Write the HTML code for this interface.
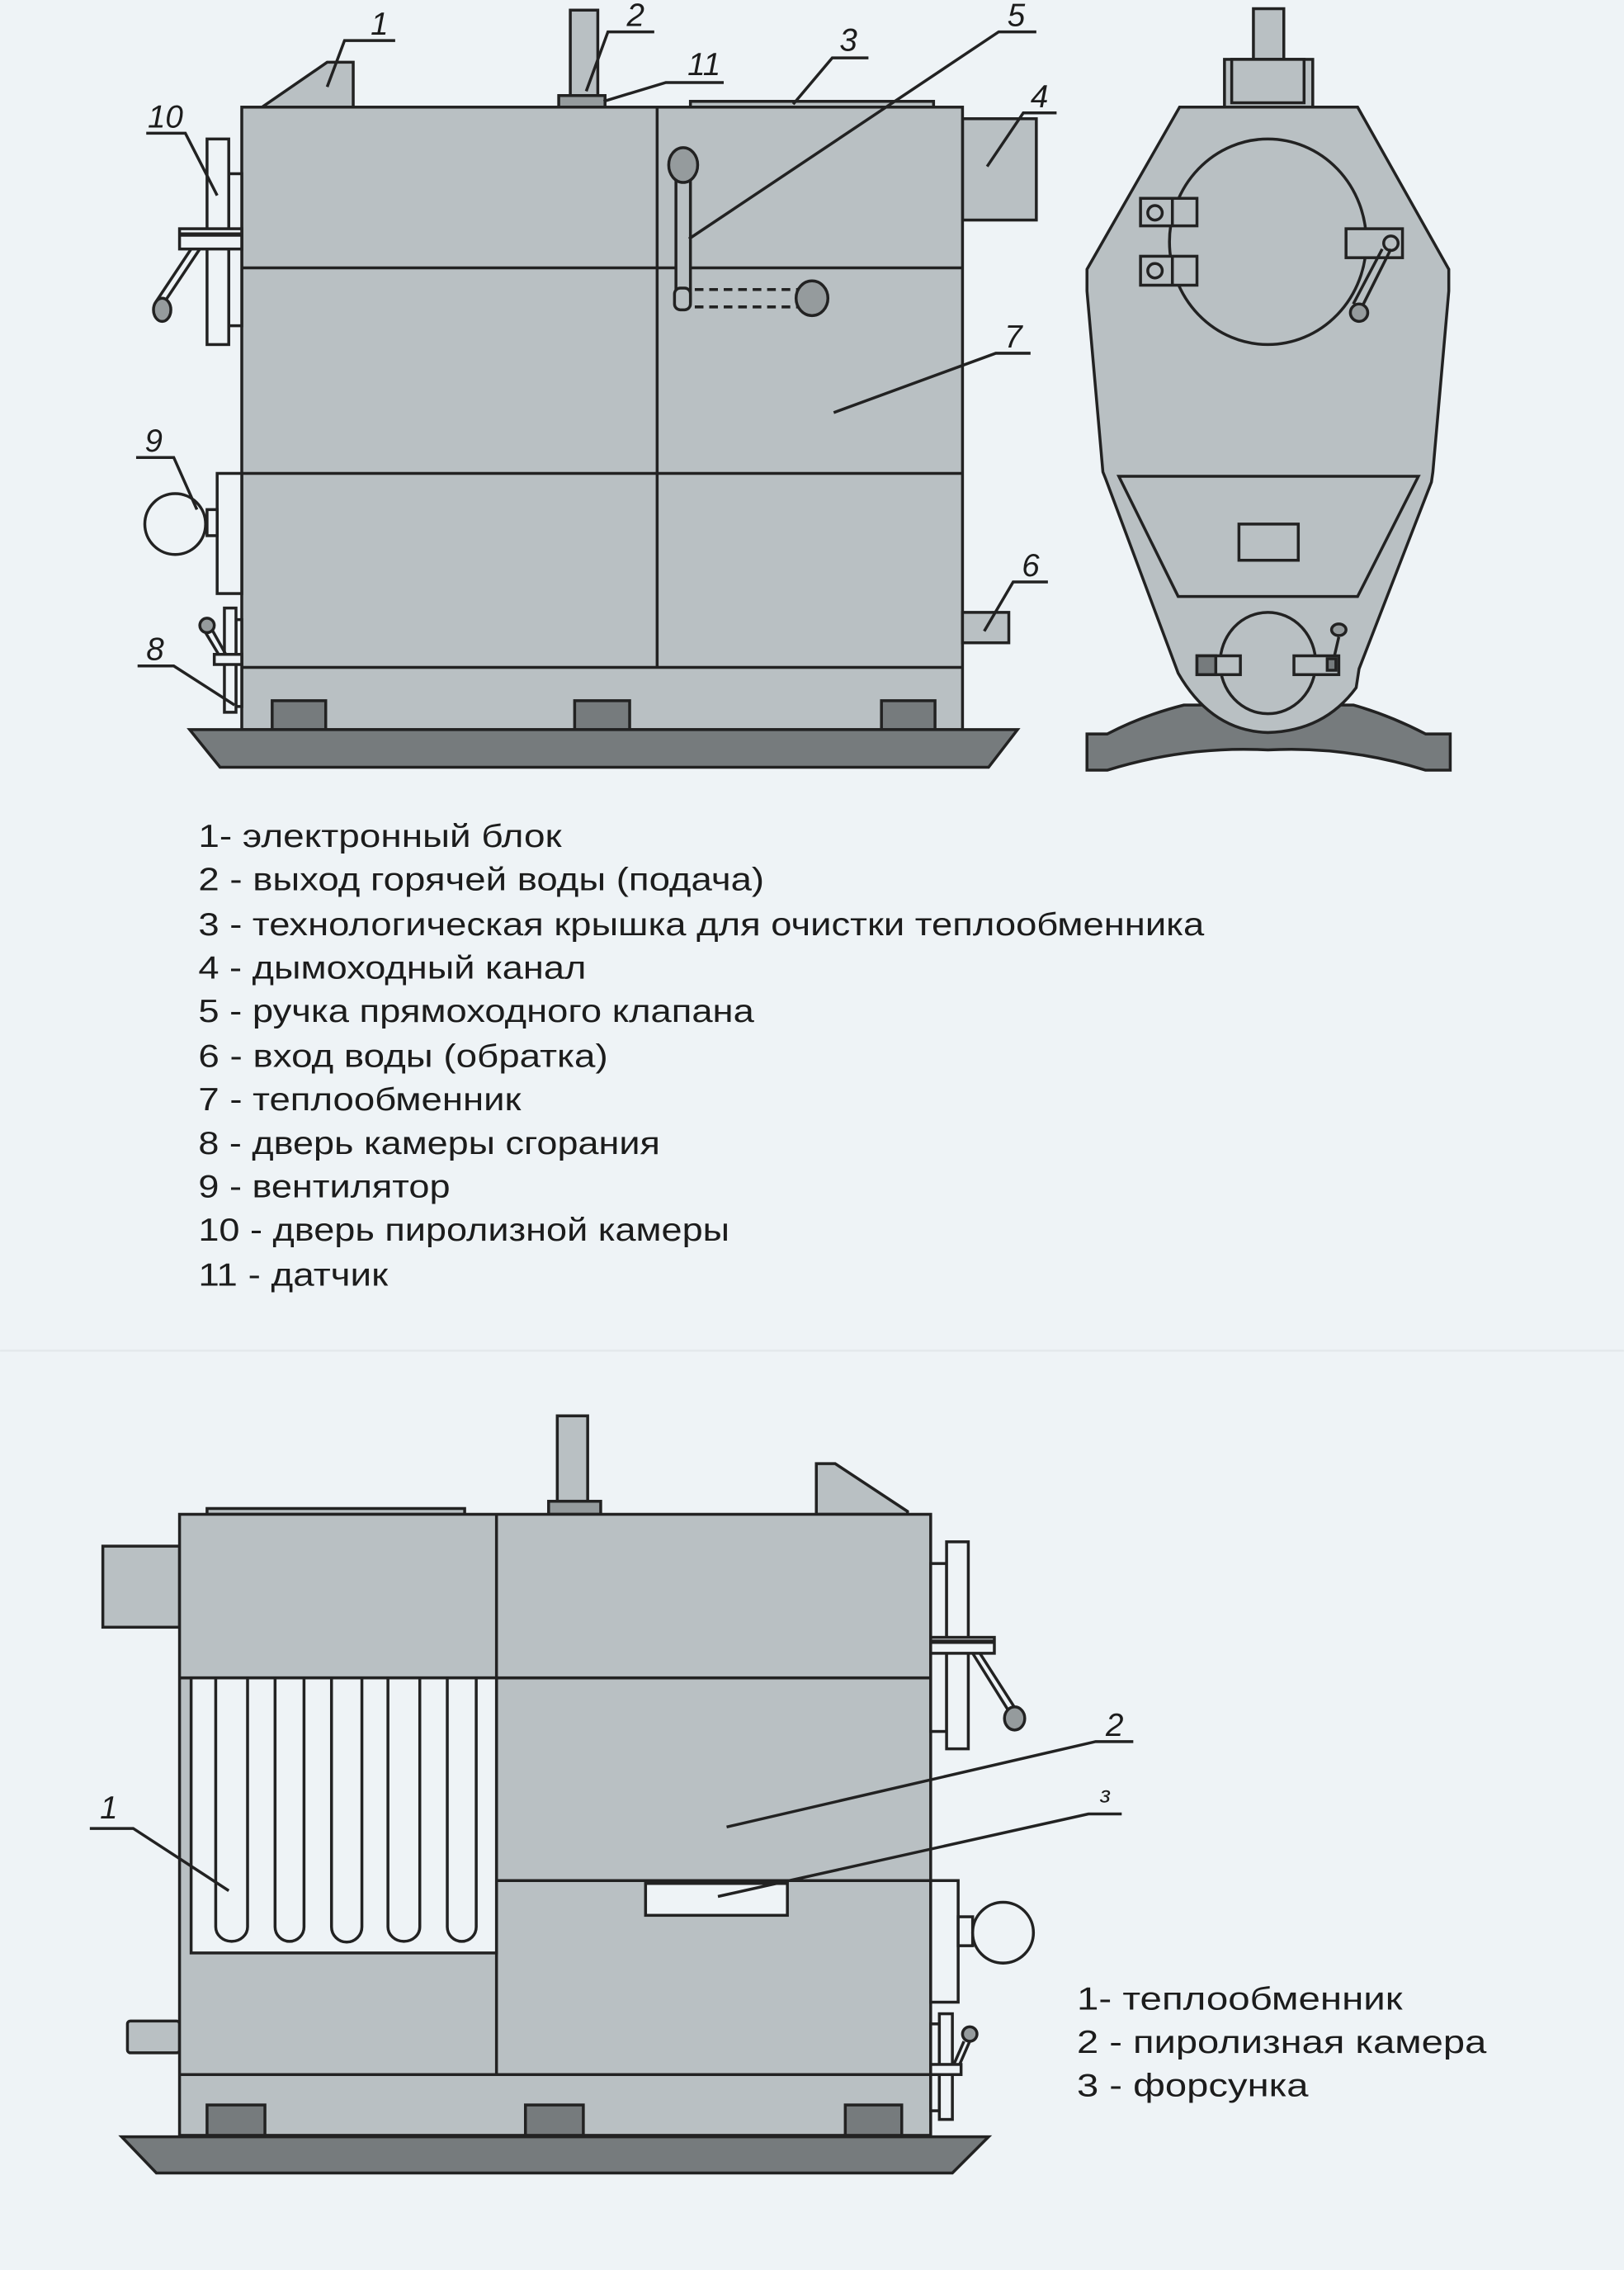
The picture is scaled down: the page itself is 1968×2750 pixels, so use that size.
<!DOCTYPE html>
<html><head><meta charset="utf-8"><style>
html,body{margin:0;padding:0;background:#eef3f6;}
svg{display:block;}
text{font-family:"Liberation Sans","DejaVu Sans",sans-serif;fill:#1c1c1c;}
.lbl{font-style:italic;font-size:22px;}
.leg{font-size:22px;}
</style></head><body>
<svg width="1968" height="2750" viewBox="0 0 1122 1568" xmlns="http://www.w3.org/2000/svg">
<rect x="0" y="0" width="1122" height="1568" fill="#eef3f6"/>
<line x1="0" y1="933" x2="1122" y2="933" stroke="#e4e9ec" stroke-width="1.5"/>
<g stroke="#222" stroke-width="2" fill="#b9c0c3">
<!-- TOP FRONT VIEW -->
<polygon points="181,74 226,43 244,43 244,74"/>
<rect x="394" y="7" width="19" height="59"/>
<rect x="386" y="66" width="32" height="8" fill="#959b9d"/>
<rect x="477" y="70" width="168" height="4"/>
<rect x="665" y="82" width="51" height="70"/>
<rect x="167" y="74" width="498" height="430"/>
<line x1="167" y1="185" x2="665" y2="185"/>
<line x1="167" y1="327" x2="665" y2="327"/>
<line x1="167" y1="461" x2="665" y2="461"/>
<line x1="454" y1="74" x2="454" y2="461"/>
<rect x="188" y="484" width="37" height="20" fill="#767b7d"/>
<rect x="397" y="484" width="38" height="20" fill="#767b7d"/>
<rect x="609" y="484" width="37" height="20" fill="#767b7d"/>
<polygon points="131,504 703,504 683,530 152,530" fill="#767b7d"/>
<!-- handle 5 -->
<rect x="467" y="118" width="10" height="90" fill="#b9c0c3"/>
<ellipse cx="472" cy="114" rx="10" ry="12" fill="#959b9d"/>
<rect x="466" y="199" width="11" height="15" rx="4"/>
<line x1="480" y1="200" x2="552" y2="200" stroke-dasharray="6,4"/>
<line x1="480" y1="212" x2="552" y2="212" stroke-dasharray="6,4"/>
<ellipse cx="561" cy="206" rx="11" ry="12" fill="#959b9d"/>
<!-- door 10 -->
<rect x="158" y="120" width="9" height="105" fill="#eef3f6"/>
<rect x="143" y="96" width="15" height="142" fill="#eef3f6"/>
<rect x="124" y="158" width="43" height="14" fill="#eef3f6"/>
<line x1="124" y1="162" x2="167" y2="162" stroke-width="3"/>
<line x1="138" y1="172" x2="114" y2="208"/>
<line x1="132" y1="172" x2="108" y2="208"/>
<ellipse cx="112" cy="214" rx="6" ry="8" fill="#959b9d"/>
<!-- fan 9 -->
<rect x="150" y="327" width="17" height="83" fill="#eef3f6"/>
<rect x="143" y="352" width="7" height="18" fill="#eef3f6"/>
<circle cx="121" cy="362" r="21" fill="#eef3f6"/>
<!-- 6 -->
<rect x="665" y="423" width="32" height="21"/>
<!-- door 8 -->
<rect x="163" y="428" width="4" height="60" fill="#eef3f6"/>
<rect x="155" y="420" width="8" height="72" fill="#eef3f6"/>
<rect x="148" y="452" width="19" height="7" fill="#eef3f6"/>
<line x1="151" y1="452" x2="142" y2="437"/>
<line x1="156" y1="452" x2="147" y2="436"/>
<ellipse cx="143" cy="432" rx="5" ry="5" fill="#959b9d"/>
</g>
<!-- top leaders -->
<g stroke="#222" stroke-width="2" fill="none">
<polyline points="273,28 238,28 226,60"/>
<polyline points="452,22 420,22 405,63"/>
<polyline points="500,57 460,57 417,70"/>
<polyline points="600,40 575,40 548,72"/>
<polyline points="716,22 690,22 476,165"/>
<polyline points="730,78 707,78 682,115"/>
<polyline points="101,92 128,92 150,135"/>
<polyline points="712,244 688,244 576,285"/>
<polyline points="94,316 120,316 136,352"/>
<polyline points="724,402 700,402 680,436"/>
<polyline points="95,460 120,460 162,487"/>
</g>
<g class="lbl">
<text x="256" y="24">1</text>
<text x="433" y="18">2</text>
<text x="475" y="52">11</text>
<text x="580" y="35">3</text>
<text x="696" y="18">5</text>
<text x="712" y="74">4</text>
<text x="102" y="88">10</text>
<text x="694" y="240">7</text>
<text x="100" y="312">9</text>
<text x="706" y="398">6</text>
<text x="101" y="456">8</text>
</g>
<!-- SIDE VIEW -->
<g stroke="#222" stroke-width="2" fill="#b9c0c3">
<rect x="866" y="6" width="21" height="35"/>
<rect x="846" y="41" width="61" height="33"/>
<rect x="851" y="41" width="50" height="30"/>
<path d="M751,507 L765,507 Q790,494 818,487 L935,487 Q960,494 985,507 L1002,507 L1002,532 L985,532 Q930,515 876,518 Q820,515 765,532 L751,532 Z" fill="#767b7d"/>
<path d="M815,74 L938,74 L1001,186 L1001,201 L990,326 L989,333 L939,462 L937,475 Q915,505 876,506 Q837,505 814,465 L764,331 L762,326 L751,201 L751,186 Z"/>
<ellipse cx="876" cy="167" rx="68" ry="71"/>
<rect x="788" y="137" width="39" height="19"/>
<line x1="810" y1="137" x2="810" y2="156"/>
<circle cx="798" cy="147" r="5"/>
<rect x="788" y="177" width="39" height="20"/>
<line x1="810" y1="177" x2="810" y2="197"/>
<circle cx="798" cy="187" r="5"/>
<rect x="930" y="158" width="39" height="20"/>
<circle cx="961" cy="168" r="5"/>
<line x1="961" y1="172" x2="941" y2="212"/>
<line x1="955" y1="172" x2="935" y2="210"/>
<ellipse cx="939" cy="216" rx="6" ry="6" fill="#959b9d"/>
<polygon points="773,329 980,329 938,412 814,412"/>
<rect x="856" y="362" width="41" height="25"/>
<ellipse cx="876" cy="458" rx="33" ry="35"/>
<rect x="827" y="453" width="30" height="13"/>
<rect x="827" y="453" width="13" height="13" fill="#767b7d"/>
<rect x="894" y="453" width="31" height="13"/>
<rect x="917" y="455" width="6" height="8" fill="#767b7d"/>
<line x1="922" y1="453" x2="925" y2="440"/>
<ellipse cx="925" cy="435" rx="5" ry="4" fill="#959b9d"/>
</g>
<!-- legend top -->
<g class="leg">
<text x="137" y="585" textLength="251" lengthAdjust="spacingAndGlyphs">1- электронный блок</text>
<text x="137" y="615" textLength="391" lengthAdjust="spacingAndGlyphs">2 - выход горячей воды (подача)</text>
<text x="137" y="646" textLength="695" lengthAdjust="spacingAndGlyphs">3 - технологическая крышка для очистки теплообменника</text>
<text x="137" y="676" textLength="268" lengthAdjust="spacingAndGlyphs">4 - дымоходный канал</text>
<text x="137" y="706" textLength="384" lengthAdjust="spacingAndGlyphs">5 - ручка прямоходного клапана</text>
<text x="137" y="737" textLength="283" lengthAdjust="spacingAndGlyphs">6 - вход воды (обратка)</text>
<text x="137" y="767" textLength="223" lengthAdjust="spacingAndGlyphs">7 - теплообменник</text>
<text x="137" y="797" textLength="319" lengthAdjust="spacingAndGlyphs">8 - дверь камеры сгорания</text>
<text x="137" y="827" textLength="174" lengthAdjust="spacingAndGlyphs">9 - вентилятор</text>
<text x="137" y="857" textLength="367" lengthAdjust="spacingAndGlyphs">10 - дверь пиролизной камеры</text>
<text x="137" y="888" textLength="131" lengthAdjust="spacingAndGlyphs">11 - датчик</text>
</g>
<!-- BOTTOM VIEW -->
<g stroke="#222" stroke-width="2" fill="#b9c0c3">
<rect x="385" y="978" width="21" height="59"/>
<rect x="379" y="1037" width="36" height="9" fill="#959b9d"/>
<rect x="143" y="1042" width="178" height="4"/>
<polygon points="564,1011 577,1011 627,1044 627,1046 564,1046"/>
<rect x="71" y="1068" width="53" height="56"/>
<rect x="88" y="1396" width="36" height="22" rx="2"/>
<rect x="124" y="1046" width="519" height="429"/>
<line x1="124" y1="1159" x2="643" y2="1159"/>
<line x1="343" y1="1299" x2="643" y2="1299"/>
<line x1="124" y1="1433" x2="643" y2="1433"/>
<line x1="343" y1="1046" x2="343" y2="1433"/>
<rect x="132" y="1159" width="211" height="190" fill="#eef3f6"/>
<path d="M149,1159 L149,1331 A11,10 0 0 0 171,1331 L171,1159" fill="none"/>
<path d="M190,1159 L190,1331 A10,10 0 0 0 210,1331 L210,1159" fill="none"/>
<path d="M229,1159 L229,1331 A10,10 0 0 0 250,1331 L250,1159" fill="none"/>
<path d="M268,1159 L268,1331 A11,10 0 0 0 290,1331 L290,1159" fill="none"/>
<path d="M309,1159 L309,1331 A10,10 0 0 0 329,1331 L329,1159" fill="none"/>
<rect x="446" y="1301" width="98" height="22" fill="#eef3f6"/>
<rect x="143" y="1454" width="40" height="21" fill="#767b7d"/>
<rect x="363" y="1454" width="40" height="21" fill="#767b7d"/>
<rect x="584" y="1454" width="39" height="21" fill="#767b7d"/>
<polygon points="84,1476 683,1476 658,1501 108,1501" fill="#767b7d"/>
<!-- right door -->
<rect x="643" y="1080" width="11" height="116" fill="#eef3f6"/>
<rect x="654" y="1065" width="15" height="143" fill="#eef3f6"/>
<rect x="643" y="1131" width="44" height="11" fill="#eef3f6"/>
<line x1="643" y1="1134" x2="687" y2="1134" stroke-width="3"/>
<line x1="672" y1="1142" x2="697" y2="1182"/>
<line x1="677" y1="1142" x2="702" y2="1181"/>
<ellipse cx="701" cy="1187" rx="7" ry="8" fill="#959b9d"/>
<!-- fan -->
<rect x="643" y="1299" width="19" height="84" fill="#eef3f6"/>
<rect x="662" y="1324" width="10" height="20" fill="#eef3f6"/>
<circle cx="693" cy="1335" r="21" fill="#eef3f6"/>
<!-- door 8 -->
<rect x="643" y="1398" width="6" height="60" fill="#eef3f6"/>
<rect x="649" y="1391" width="9" height="73" fill="#eef3f6"/>
<rect x="643" y="1426" width="21" height="7" fill="#eef3f6"/>
<line x1="659" y1="1426" x2="666" y2="1410"/>
<line x1="663" y1="1426" x2="670" y2="1410"/>
<ellipse cx="670" cy="1405" rx="5" ry="5" fill="#959b9d"/>
</g>
<g stroke="#222" stroke-width="2" fill="none">
<polyline points="62,1263 92,1263 158,1306"/>
<polyline points="783,1203 757,1203 502,1262"/>
<polyline points="775,1253 752,1253 496,1310"/>
</g>
<g class="lbl">
<text x="69" y="1256">1</text>
<text x="764" y="1199">2</text>
<text x="760" y="1245" style="font-size:16px">з</text>
</g>
<g class="leg">
<text x="744" y="1388" textLength="225" lengthAdjust="spacingAndGlyphs">1- теплообменник</text>
<text x="744" y="1418" textLength="283" lengthAdjust="spacingAndGlyphs">2 - пиролизная камера</text>
<text x="744" y="1448" textLength="160" lengthAdjust="spacingAndGlyphs">3 - форсунка</text>
</g>
</svg>
</body></html>
